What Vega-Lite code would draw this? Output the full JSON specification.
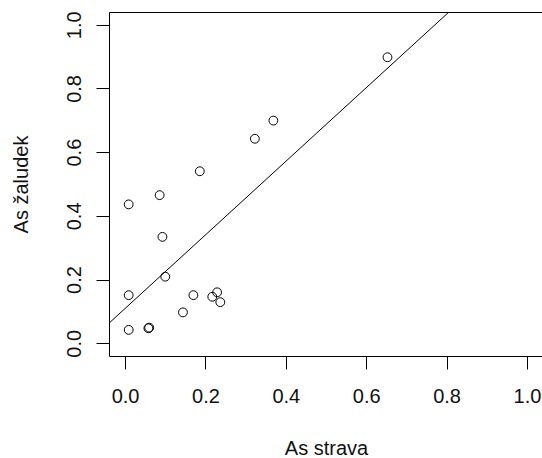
{
  "$schema": "https://vega.github.io/schema/vega-lite/v6.json",
  "width": 434,
  "height": 344,
  "autosize": "none",
  "padding": {"left": 109, "top": 12, "right": 0, "bottom": 102},
  "background": "white",
  "config": {
    "font": "Liberation Sans",
    "view": {"stroke": "black", "strokeWidth": 1},
    "axis": {
      "domain": false,
      "grid": false,
      "ticks": true,
      "tickSize": 13,
      "tickColor": "black",
      "tickWidth": 1,
      "labelFont": "Liberation Sans",
      "labelFontSize": 20,
      "labelColor": "#111",
      "titleFont": "Liberation Sans",
      "titleFontSize": 20,
      "titleFontWeight": "normal",
      "titleColor": "#111"
    }
  },
  "datasets": {
    "pts": [
      {"strava": 0.653, "zaludek": 0.898},
      {"strava": 0.369, "zaludek": 0.699},
      {"strava": 0.323, "zaludek": 0.642},
      {"strava": 0.186, "zaludek": 0.540},
      {"strava": 0.086, "zaludek": 0.465},
      {"strava": 0.009, "zaludek": 0.436},
      {"strava": 0.093, "zaludek": 0.334},
      {"strava": 0.100, "zaludek": 0.209},
      {"strava": 0.009, "zaludek": 0.151},
      {"strava": 0.170, "zaludek": 0.151},
      {"strava": 0.217, "zaludek": 0.146},
      {"strava": 0.229, "zaludek": 0.160},
      {"strava": 0.237, "zaludek": 0.129},
      {"strava": 0.144, "zaludek": 0.097},
      {"strava": 0.009, "zaludek": 0.042},
      {"strava": 0.058, "zaludek": 0.047},
      {"strava": 0.060, "zaludek": 0.049}
    ],
    "fit": [
      {"strava": -0.04, "zaludek": 0.063},
      {"strava": 0.806, "zaludek": 1.04}
    ]
  },
  "layer": [
    {
      "data": {"name": "fit"},
      "mark": {"type": "line", "color": "black", "strokeWidth": 1, "clip": true},
      "encoding": {
        "x": {"field": "strava", "type": "quantitative"},
        "y": {"field": "zaludek", "type": "quantitative"}
      }
    },
    {
      "data": {"name": "pts"},
      "mark": {"type": "point", "shape": "circle", "filled": false, "stroke": "black", "strokeWidth": 1, "size": 78, "opacity": 1},
      "encoding": {
        "x": {
          "field": "strava", "type": "quantitative",
          "scale": {"domain": [-0.04, 1.04], "nice": false, "zero": false},
          "axis": {
            "title": "As strava",
            "values": [0, 0.2, 0.4, 0.6, 0.8, 1.0],
            "format": ".1f",
            "labelPadding": 17,
            "labelBaseline": "top",
            "titleX": 217,
            "titleY": 98,
            "titleBaseline": "alphabetic",
            "titleAlign": "center"
          }
        },
        "y": {
          "field": "zaludek", "type": "quantitative",
          "scale": {"domain": [-0.04, 1.04], "nice": false, "zero": false},
          "axis": {
            "title": "As žaludek",
            "values": [0, 0.2, 0.4, 0.6, 0.8, 1.0],
            "format": ".1f",
            "labelAngle": 270,
            "labelAlign": "center",
            "labelBaseline": "bottom",
            "labelPadding": 12,
            "titleAngle": 270,
            "titleX": -82,
            "titleY": 172,
            "titleAlign": "center",
            "titleBaseline": "alphabetic"
          }
        }
      }
    }
  ]
}
